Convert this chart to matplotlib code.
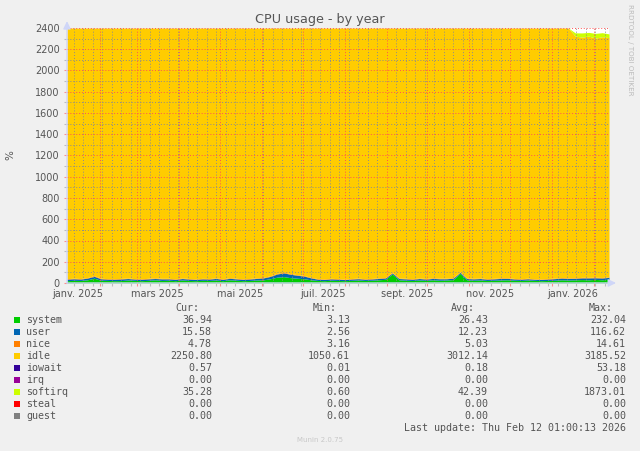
import numpy as np
import pandas as pd
import matplotlib
matplotlib.use('Agg')
import matplotlib.pyplot as plt
import matplotlib.dates as mdates
from matplotlib.ticker import MultipleLocator
from matplotlib.patches import Rectangle

# valeurs, un point tous les 5 jours (08/01/2025 -> 12/02/2026)
start_day = '2025-01-08'
step_days = 5

system = [22, 25, 24, 30, 45, 26, 24, 22, 23, 28,
          25, 22, 25, 30, 24, 26, 22, 28, 24, 22,
          25, 24, 28, 22, 30, 26, 22, 24, 28, 30,
          40, 55, 60, 50, 45, 40, 30, 24, 22, 26,
          24, 22, 25, 28, 24, 26, 30, 35, 85, 30,
          26, 24, 28, 25, 30, 26, 28, 32, 90, 30,
          26, 28, 24, 26, 28, 30, 26, 24, 28, 25,
          22, 24, 26, 30, 28, 30, 32, 30, 34, 30,
          37]
user = [14, 15, 13, 16, 18, 14, 12, 13, 15, 14,
        12, 13, 14, 12, 15, 13, 12, 14, 13, 12,
        14, 13, 15, 12, 14, 13, 12, 14, 15, 18,
        22, 30, 35, 32, 28, 25, 18, 12, 11, 13,
        12, 10, 12, 13, 11, 12, 13, 12, 10, 12,
        13, 11, 14, 12, 13, 14, 12, 13, 10, 12,
        13, 14, 12, 13, 15, 14, 12, 11, 12, 10,
        11, 13, 15, 16, 15, 14, 16, 18, 15, 17,
        16]
nice = [5, 5, 5, 5, 6, 5, 5, 5, 5, 5,
        4, 5, 5, 6, 5, 5, 5, 5, 5, 4,
        5, 5, 5, 5, 6, 5, 5, 5, 5, 5,
        6, 6, 6, 6, 5, 5, 5, 5, 5, 5,
        5, 4, 5, 5, 5, 5, 5, 5, 5, 5,
        5, 5, 5, 5, 6, 5, 5, 5, 5, 5,
        5, 5, 5, 5, 6, 5, 5, 5, 5, 4,
        5, 5, 5, 5, 5, 5, 5, 5, 5, 5,
        5]
idle = [2358, 2354, 2357, 2348, 2330, 2354, 2358, 2359, 2356, 2352,
        2358, 2359, 2355, 2351, 2355, 2355, 2360, 2352, 2357, 2361,
        2355, 2357, 2351, 2360, 2349, 2355, 2360, 2356, 2351, 2346,
        2331, 2308, 2298, 2311, 2321, 2329, 2346, 2358, 2361, 2355,
        2358, 2363, 2357, 2353, 2359, 2356, 2351, 2347, 2299, 2352,
        2355, 2359, 2352, 2357, 2350, 2354, 2354, 2349, 2294, 2352,
        2355, 2352, 2358, 2355, 2350, 2350, 2356, 2359, 2354, 2360,
        2361, 2357, 2353, 2348, 2351, 2275, 2260, 2270, 2250, 2265,
        2251]
iowait = [0.2, 0.2, 0.2, 0.2, 0.2, 0.2, 0.2, 0.2, 0.2, 0.2,
          0.2, 0.2, 0.2, 0.2, 0.2, 0.2, 0.2, 0.2, 0.2, 0.2,
          0.2, 0.2, 0.2, 0.2, 0.2, 0.2, 0.2, 0.2, 0.2, 0.2,
          0.2, 0.2, 0.2, 0.2, 0.2, 0.2, 0.2, 0.2, 0.2, 0.2,
          0.2, 0.2, 0.2, 0.2, 0.2, 0.2, 0.2, 0.2, 0.2, 0.2,
          0.2, 0.2, 0.2, 0.2, 0.2, 0.2, 0.2, 0.2, 0.2, 0.2,
          0.2, 0.2, 0.2, 0.2, 0.2, 0.2, 0.2, 0.2, 0.2, 0.2,
          0.2, 0.2, 0.2, 0.2, 0.2, 0.6, 0.5, 0.6, 0.5, 0.6,
          0.6]
softirq = [0.8, 0.8, 0.8, 0.8, 0.8, 0.8, 0.8, 0.8, 0.8, 0.8,
           0.8, 0.8, 0.8, 0.8, 0.8, 0.8, 0.8, 0.8, 0.8, 0.8,
           0.8, 0.8, 0.8, 0.8, 0.8, 0.8, 0.8, 0.8, 0.8, 0.8,
           0.8, 0.8, 0.8, 0.8, 0.8, 0.8, 0.8, 0.8, 0.8, 0.8,
           0.8, 0.8, 0.8, 0.8, 0.8, 0.8, 0.8, 0.8, 0.8, 0.8,
           0.8, 0.8, 0.8, 0.8, 0.8, 0.8, 0.8, 0.8, 0.8, 0.8,
           0.8, 0.8, 0.8, 0.8, 0.8, 0.8, 0.8, 0.8, 0.8, 0.8,
           0.8, 0.8, 0.8, 0.8, 0.8, 30, 40, 35, 45, 38,
           35]

# légende munin
names = ['system', 'user', 'nice', 'idle', 'iowait', 'irq', 'softirq', 'steal', 'guest']
colors = ['#00CC00', '#0066B3', '#FF8000', '#FFCC00', '#330099',
          '#990099', '#CCFF00', '#FF0000', '#808080']
cur = ['36.94', '15.58', '4.78', '2250.80', '0.57', '0.00', '35.28', '0.00', '0.00']
mins = ['3.13', '2.56', '3.16', '1050.61', '0.01', '0.00', '0.60', '0.00', '0.00']
avgs = ['26.43', '12.23', '5.03', '3012.14', '0.18', '0.00', '42.39', '0.00', '0.00']
maxs = ['232.04', '116.62', '14.61', '3185.52', '53.18', '0.00', '1873.01', '0.00', '0.00']

tick_months = ['2025-01-01', '2025-03-01', '2025-05-01', '2025-07-01',
               '2025-09-01', '2025-11-01', '2026-01-01']
tick_labels = ['janv. 2025', 'mars 2025', 'mai 2025', 'juil. 2025',
               'sept. 2025', 'nov. 2025', 'janv. 2026']

W, H = 640, 451
FONT = '#555555'


def px(x, y):
    return x / W, 1 - y / H


dates = pd.date_range(start_day, periods=len(system), freq=f'{step_days}D')

fig = plt.figure(figsize=(W / 100, H / 100), dpi=100, facecolor='#F0F0F0')
ax = fig.add_axes([67 / W, 1 - 283 / H, (609 - 67) / W, (283 - 28) / H])
ax.set_facecolor('white')

stack = [system, user, nice, idle, iowait, softirq]
stack_colors = [colors[0], colors[1], colors[2], colors[3], colors[4], colors[6]]
base = np.zeros(len(dates))
for vals, col in zip(stack, stack_colors):
    top = base + np.asarray(vals, dtype=float)
    ax.fill_between(dates, base, top, color=col, lw=0, zorder=1)
    base = top

ax.set_xlim(dates[0], dates[-1])
ax.set_ylim(0, 2400)

ax.xaxis.set_major_locator(mdates.MonthLocator())
ax.xaxis.set_minor_locator(mdates.WeekdayLocator(byweekday=mdates.MO))
ax.yaxis.set_major_locator(MultipleLocator(200))
ax.yaxis.set_minor_locator(MultipleLocator(100))

mgrid = (1.0, 0.32, 0.32, 0.4)
grid = (0.55, 0.55, 0.55, 0.35)
ax.set_axisbelow(False)
ax.grid(which='major', color=mgrid, ls=(0, (1, 2)), lw=0.7)
ax.grid(which='minor', color=grid, ls=(0, (1, 2)), lw=0.7)

ax.tick_params(which='major', direction='out', length=2.2, width=0.8,
               color=(1.0, 0.32, 0.32, 0.6), labelsize=7, labelcolor=FONT, pad=3.2)
ax.tick_params(which='minor', direction='out', length=2.2, width=0.8,
               color=(0.55, 0.55, 0.55, 0.5))
ax.tick_params(axis='x', which='both', labelbottom=False)
for s in ax.spines.values():
    s.set_visible(False)

# étiquettes de mois centrées sur le milieu du mois (comme rrdtool)
sec = ax.secondary_xaxis('bottom')
label_pos = [mdates.date2num(pd.Timestamp(m) + pd.Timedelta(days=15)) for m in tick_months]
sec.set_xticks(label_pos, labels=tick_labels)
sec.tick_params(length=0, pad=4, labelsize=7, labelcolor=FONT)
sec.spines['bottom'].set_visible(False)

# axes avec flèches
axis_col = '#CFD6F8'
ax.annotate('', xy=(1.013, 0), xytext=(0, 0), xycoords='axes fraction',
            arrowprops=dict(arrowstyle='-|>,head_length=0.45,head_width=0.22',
                            color=axis_col, lw=1, shrinkA=0, shrinkB=0),
            annotation_clip=False, zorder=6)
ax.annotate('', xy=(0, 1.027), xytext=(0, 0), xycoords='axes fraction',
            arrowprops=dict(arrowstyle='-|>,head_length=0.45,head_width=0.22',
                            color=axis_col, lw=1, shrinkA=0, shrinkB=0),
            annotation_clip=False, zorder=6)

fig.text(*px(320, 19), 'CPU usage - by year', ha='center', va='center',
         fontsize=9.2, color=FONT)
fig.text(*px(10, 155), '%', ha='center', va='center', rotation=90,
         fontsize=7.5, color=FONT)
fig.text(*px(630, 4), 'RRDTOOL / TOBI OETIKER', ha='center', va='top',
         rotation=270, fontsize=5.1, color='#BBBBBB')

# tableau de légende
mono = dict(family='DejaVu Sans Mono', fontsize=7.2, color=FONT, va='center')
col_right = [212, 350, 488, 626]
for xr, head in zip(col_right, ['Cur:', 'Min:', 'Avg:', 'Max:']):
    fig.text(*px(xr - 13, 308), head, ha='right', **mono)

for i, name in enumerate(names):
    y = 320 + i * 12
    fig.patches.append(Rectangle(px(14, y + 3), 6 / W, 6 / H, transform=fig.transFigure,
                                 facecolor=colors[i], edgecolor='none'))
    fig.text(*px(26, y), name, ha='left', **mono)
    for xr, vals in zip(col_right, [cur, mins, avgs, maxs]):
        fig.text(*px(xr, y), vals[i], ha='right', **mono)

fig.text(*px(626, 428), 'Last update: Thu Feb 12 01:00:13 2026', ha='right', **mono)
fig.text(*px(320, 440), 'Munin 2.0.75', ha='center', va='center',
         fontsize=5, color='#C8C8C8')

fig.savefig('out.png', dpi=100, facecolor=fig.get_facecolor())
